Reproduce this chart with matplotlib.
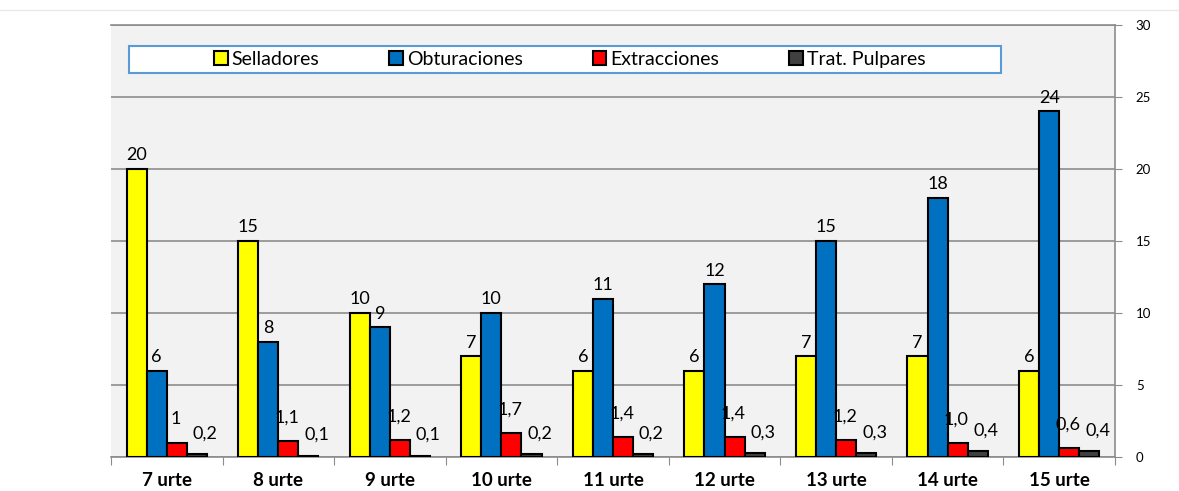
import numpy as np
import matplotlib.pyplot as plt
from matplotlib.patches import Rectangle
from matplotlib.lines import Line2D

plt.rcParams['font.family'] = ['Lato', 'DejaVu Sans']

categories = ['7 urte', '8 urte', '9 urte', '10 urte', '11 urte',
              '12 urte', '13 urte', '14 urte', '15 urte']
selladores = [20, 15, 10, 7, 6, 6, 7, 7, 6]
obturaciones = [6, 8, 9, 10, 11, 12, 15, 18, 24]
extracciones = [1, 1.1, 1.2, 1.7, 1.4, 1.4, 1.2, 1.0, 0.6]
extracciones_lbl = ['1', '1,1', '1,2', '1,7', '1,4', '1,4', '1,2', '1,0', '0,6']
pulpares = [0.2, 0.1, 0.1, 0.2, 0.2, 0.3, 0.3, 0.4, 0.4]
pulpares_lbl = ['0,2', '0,1', '0,1', '0,2', '0,2', '0,3', '0,3', '0,4', '0,4']

series = [
    ('Selladores', selladores, [str(v) for v in selladores], '#ffff00'),
    ('Obturaciones', obturaciones, [str(v) for v in obturaciones], '#0070c0'),
    ('Extracciones', extracciones, extracciones_lbl, '#ff0000'),
    ('Trat. Pulpares', pulpares, pulpares_lbl, '#404040'),
]

fig = plt.figure(figsize=(11.79, 4.91), dpi=100)
fig.add_artist(Line2D([0, 1], [0.98, 0.98], color='#e8e8e8', linewidth=1))
ax = fig.add_axes([0.0941, 0.0692, 0.8516, 0.8798])
ax.set_facecolor('#f2f2f2')

x = np.arange(len(categories))
w = 0.18
handles = []
for i, (name, vals, lbls, col) in enumerate(series):
    pos = x + (i - 1.5) * w
    b = ax.bar(pos, vals, w, color=col, edgecolor='black', linewidth=1.5,
               label=name, zorder=3)
    handles.append(b)
    for px, v, t in zip(pos, vals, lbls):
        if i < 2:
            dy, dx = 4, 0
        elif i == 2:
            dy, dx = 11, -1
        else:
            dy, dx = 9, 6
        ax.annotate(t, (px, v), xytext=(dx, dy), textcoords='offset points',
                    ha='center', va='bottom', fontsize=13, zorder=4)

ax.set_xlim(-0.5, len(categories) - 0.5)
ax.set_ylim(0, 30)

# grid / spines
ax.set_yticks(np.arange(0, 31, 5))
ax.yaxis.grid(True, color='#8c8c8c', linewidth=1.2, zorder=0)
ax.yaxis.tick_right()
ax.tick_params(axis='y', length=5, color='#8c8c8c', labelsize=9.5, pad=10)
ax.spines['left'].set_visible(False)
for s in ['right', 'bottom', 'top']:
    ax.spines[s].set_color('#8c8c8c')
    ax.spines[s].set_linewidth(1.2)

ax.set_xticks(np.arange(len(categories) + 1) - 0.5)
ax.set_xticklabels([])
ax.tick_params(axis='x', which='major', length=6, color='#8c8c8c')
ax.set_xticks(x, minor=True)
ax.set_xticklabels(categories, minor=True, fontsize=13.5, fontweight='bold')
ax.tick_params(axis='x', which='minor', length=0, pad=11)

# legend box
ax.add_patch(Rectangle((0.018, 0.889), 0.868, 0.062, transform=ax.transAxes,
                       facecolor='white', edgecolor='#5b9bd5', linewidth=1.5,
                       zorder=5))
leg = ax.legend(handles=handles, loc='center', bbox_to_anchor=(0.457, 0.92),
                ncol=4, frameon=False, fontsize=14, columnspacing=3.6,
                handlelength=0.7, handleheight=0.7, handletextpad=0.2)
leg.set_zorder(6)

fig.savefig('out.png', dpi=100, facecolor='white')
